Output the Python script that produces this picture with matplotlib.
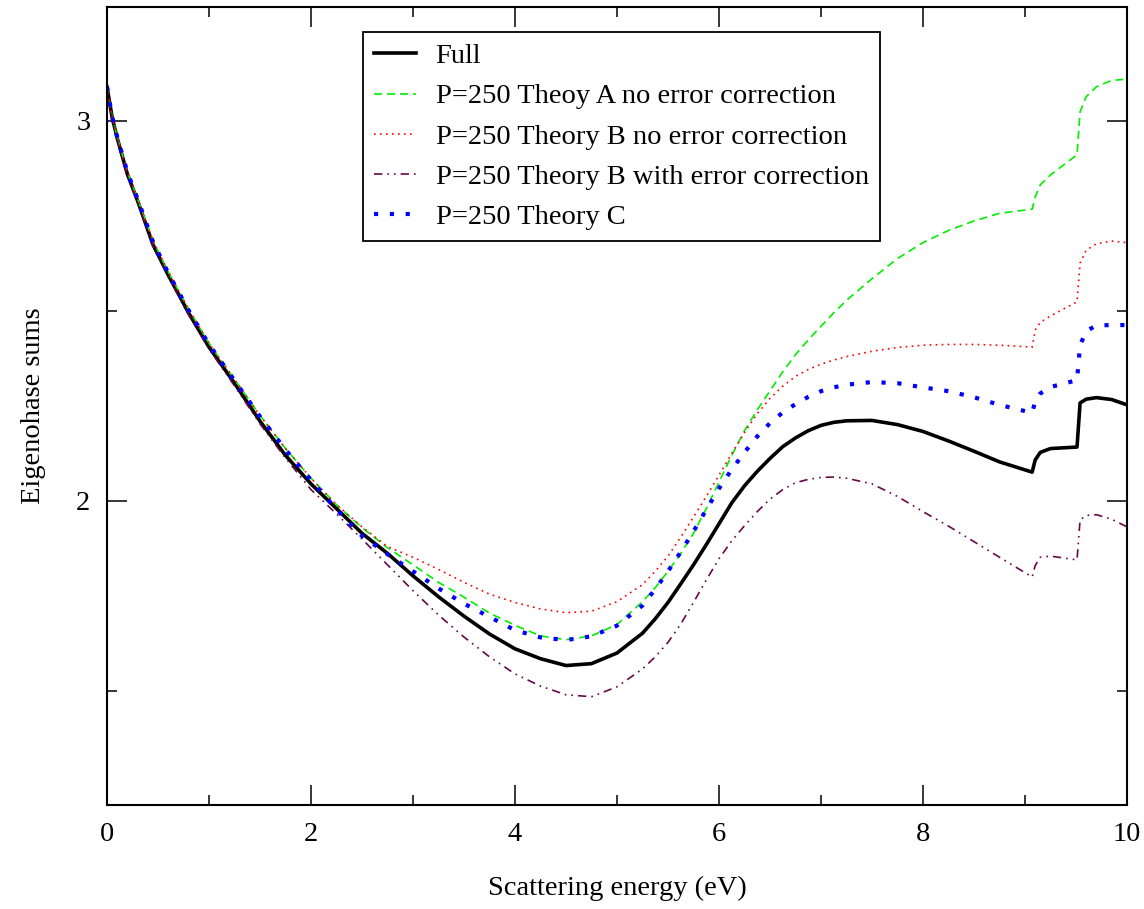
import matplotlib
matplotlib.use('Agg')
import matplotlib.pyplot as plt
from matplotlib.ticker import MultipleLocator

plt.rcParams['font.family'] = ['Liberation Serif', 'DejaVu Serif']

# energy grid (eV), shared by all curves
energy = [0, 0.05, 0.1, 0.2, 0.3, 0.45, 0.6, 0.8, 1.0, 1.25, 1.5, 1.75,
          2.0, 2.25, 2.5, 2.75, 3.0, 3.25, 3.5, 3.75, 4.0, 4.25, 4.5, 4.75,
          5.0, 5.25, 5.375, 5.5, 5.625, 5.75, 5.875, 6.0, 6.125, 6.25, 6.375,
          6.5, 6.625, 6.75, 6.875, 7.0, 7.125, 7.25, 7.5, 7.75,
          8.0, 8.25, 8.5, 8.75, 9.07, 9.1, 9.15, 9.25, 9.51, 9.54, 9.6, 9.7,
          9.85, 10.0]

full = [3.09, 3.01, 2.955, 2.86, 2.79, 2.675, 2.595, 2.495, 2.405, 2.31, 2.21, 2.12,
        2.045, 1.98, 1.915, 1.862, 1.803, 1.748, 1.697, 1.65, 1.611, 1.585, 1.567, 1.572,
        1.6, 1.652, 1.69, 1.733, 1.782, 1.832, 1.885, 1.94, 1.995, 2.04, 2.078,
        2.112, 2.143, 2.166, 2.185, 2.199, 2.207, 2.211, 2.212, 2.201,
        2.183, 2.158, 2.131, 2.103, 2.076, 2.108, 2.128, 2.138, 2.142, 2.258, 2.268, 2.272,
        2.267, 2.253]

theory_a = [3.09, 3.012, 2.958, 2.865, 2.795, 2.685, 2.603, 2.505, 2.415, 2.32, 2.225, 2.138,
            2.06, 1.99, 1.93, 1.877, 1.832, 1.786, 1.747, 1.705, 1.673, 1.645, 1.635, 1.645,
            1.675, 1.735, 1.772, 1.815, 1.862, 1.915, 1.98, 2.05, 2.12, 2.185, 2.24,
            2.29, 2.34, 2.385, 2.424, 2.46, 2.495, 2.528, 2.585, 2.638,
            2.68, 2.712, 2.737, 2.757, 2.768, 2.8, 2.832, 2.858, 2.911, 3.024, 3.064, 3.09,
            3.107, 3.11]

theory_b = [3.09, 3.012, 2.958, 2.865, 2.795, 2.685, 2.603, 2.505, 2.415, 2.32, 2.225, 2.138,
            2.06, 1.99, 1.932, 1.88, 1.852, 1.82, 1.786, 1.755, 1.733, 1.716, 1.706, 1.71,
            1.735, 1.78, 1.815, 1.855, 1.905, 1.958, 2.012, 2.068, 2.125, 2.18, 2.23,
            2.27, 2.302, 2.328, 2.346, 2.36, 2.371, 2.38, 2.394, 2.404,
            2.41, 2.412, 2.412, 2.41, 2.405, 2.45, 2.47, 2.487, 2.524, 2.626, 2.66, 2.677,
            2.684, 2.68]

theory_b_ec = [3.09, 3.008, 2.95, 2.855, 2.785, 2.672, 2.59, 2.49, 2.4, 2.303, 2.203, 2.113,
               2.03, 1.966, 1.9, 1.832, 1.764, 1.7, 1.642, 1.59, 1.545, 1.513, 1.49, 1.485,
               1.511, 1.558, 1.59, 1.628, 1.676, 1.733, 1.792, 1.848, 1.895, 1.935, 1.972,
               2.005, 2.03, 2.048, 2.057, 2.062, 2.063, 2.06, 2.045, 2.012,
               1.972, 1.934, 1.893, 1.852, 1.8, 1.83, 1.852, 1.855, 1.845, 1.95, 1.962, 1.964,
               1.952, 1.932]

theory_c = [3.09, 3.012, 2.958, 2.865, 2.795, 2.683, 2.6, 2.502, 2.412, 2.317, 2.222, 2.135,
            2.055, 1.978, 1.908, 1.86, 1.815, 1.77, 1.73, 1.695, 1.66, 1.641, 1.634, 1.644,
            1.672, 1.725, 1.768, 1.815, 1.866, 1.92, 1.977, 2.033, 2.083, 2.128, 2.17,
            2.205, 2.233, 2.255, 2.274, 2.289, 2.299, 2.306, 2.313, 2.31,
            2.299, 2.289, 2.273, 2.253, 2.232, 2.262, 2.283, 2.3, 2.318, 2.41, 2.447, 2.462,
            2.463, 2.463]

fs = 20.5
fig = plt.figure(figsize=(11.44, 9.09), dpi=100)
ax = fig.add_axes([107/1144, 1-805/909, 1020/1144, 798/909])

ax.plot(energy, full, color='black', lw=2.6, label='Full')
ax.plot(energy, theory_a, color='#00ee00', lw=1.2, ls=(0, (4.8, 3)),
        label='P=250 Theoy A no error correction')
ax.plot(energy, theory_b, color='#ff0000', lw=1.2, ls=(0, (1, 2.6)),
        label='P=250 Theory B no error correction')
ax.plot(energy, theory_b_ec, color='#670748', lw=1.2, ls=(0, (5, 3, 1, 3, 1, 3)),
        label='P=250 Theory B with error correction')
ax.plot(energy, theory_c, color='#0000ff', lw=3.0, ls=(0, (1, 2.8)),
        label='P=250 Theory C')

ax.set_xlim(0, 10)
ax.set_ylim(1.2, 3.3)
ax.xaxis.set_major_locator(MultipleLocator(2))
ax.xaxis.set_minor_locator(MultipleLocator(1))
ax.yaxis.set_major_locator(MultipleLocator(1))
ax.yaxis.set_minor_locator(MultipleLocator(0.5))
ax.tick_params(which='both', direction='in', top=True, right=True, width=1.1,
               labelsize=fs)
ax.tick_params(which='major', length=14.5)
ax.tick_params(which='minor', length=7.2)
ax.tick_params(axis='x', pad=12)
ax.tick_params(axis='y', pad=12)
for s in ax.spines.values():
    s.set_linewidth(1.5)

ax.set_xlabel('Scattering energy (eV)', fontsize=fs, labelpad=21)
ax.set_ylabel('Eigenohase sums', fontsize=fs, labelpad=22)

leg = ax.legend(loc='upper left', bbox_to_anchor=(363/1144, 1-32/909),
                bbox_transform=fig.transFigure, borderaxespad=0,
                fontsize=fs, frameon=True, fancybox=False, framealpha=1,
                edgecolor='black', handlelength=1.45, handletextpad=0.7,
                labelspacing=0.5, borderpad=0.4)
leg.get_frame().set_linewidth(1.3)

fig.savefig('out.png', dpi=100)
